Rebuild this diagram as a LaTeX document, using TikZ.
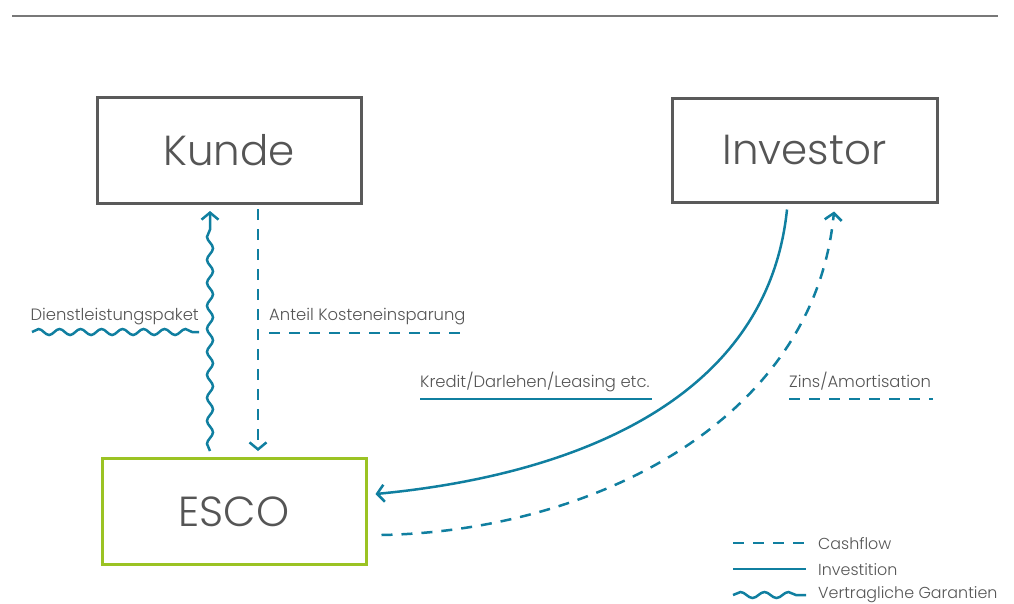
\documentclass[tikz,border=0pt]{standalone}
\usepackage{fontspec}
\setmainfont{Poppins Light}
\usetikzlibrary{arrows.meta,decorations.pathmorphing,calc}
\definecolor{flowc}{RGB}{16,127,160}
\definecolor{escoc}{RGB}{155,195,35}
\definecolor{boxc}{RGB}{90,90,90}
\definecolor{txtc}{RGB}{85,85,85}
\definecolor{rulec}{RGB}{120,120,120}
\tikzset{
  bigbox/.style={draw=boxc, line width=3pt, minimum width=264pt, minimum height=106pt, inner sep=0pt, text=txtc, font=\fontsize{42}{42}\selectfont},
  escobox/.style={bigbox, draw=escoc},
  lbl/.style={text=txtc, font=\fontsize{16.4}{17}\selectfont, inner sep=0pt},
  leg/.style={lbl, font=\fontsize{15.9}{17}\selectfont},
  flow/.style={draw=flowc, line width=2.5pt},
  cash/.style={flow, dash pattern=on 11pt off 9pt},
  wave/.style={flow, decorate, decoration={snake, amplitude=3pt, segment length=23pt}},
  tip/.style={-{Straight Barb[length=7pt,width=17pt]}},
}
\begin{document}
\begin{tikzpicture}[x=1pt,y=-1pt]
\useasboundingbox (0,0) rectangle (1014,603);
\draw[rulec, line width=1.3pt] (12,16) -- (998,16);

\node[bigbox] (kunde) at (229,150.5) {Kunde};
\node[bigbox, minimum width=265pt, minimum height=104pt] (investor) at (804.5,150) {Investor};
\node[escobox] (esco) at (234,511.5) {ESCO};

% vertical connectors
\coordinate (wS) at ([xshift=-24pt,yshift=6pt]esco.north);
\coordinate (wE) at ([xshift=-19pt,yshift=-6pt]kunde.south);
\draw[wave, tip, decoration={post length=8pt}] (wS) -- (wE);
\coordinate (dS) at ([xshift=29pt,yshift=-4pt]kunde.south);
\coordinate (dE) at ([xshift=24pt,yshift=6pt]esco.north);
\draw[cash, tip] (dS) -- (dE);

% curved connectors
\coordinate (sS) at ([xshift=-17.5pt,yshift=-6pt]investor.south);
\coordinate (sE) at ([xshift=8pt,yshift=17.5pt]esco.east);
\draw[flow, tip] (sS) .. controls ++(-20,195) and ++(190,-18) .. (sE);
\coordinate (cS) at ([xshift=14pt,yshift=-23.5pt]esco.east);
\coordinate (cE) at ([xshift=29.5pt,yshift=-8pt]investor.south);
\draw[cash, tip] (cS) .. controls ++(210,-4) and ++(-20,210) .. (cE);

% labels
\node[lbl, anchor=base east] (l1) at (199,320) {Dienstleistungspaket};
\draw[wave, decoration={segment length=21pt}] (32,332) -- (199,332);
\node[lbl, anchor=base west] (l2) at (269,320) {Anteil Kosteneinsparung};
\draw[cash] (269,333) -- (468,333);
\node[lbl, anchor=base west] (l3) at (420,387) {Kredit/Darlehen/Leasing etc.};
\draw[flow] (420,399) -- (652,399);
\node[lbl, anchor=base west] (l4) at (789,387) {Zins/Amortisation};
\draw[cash] (789,399) -- (933,399);

% legend
\draw[cash] (733,543) -- (806,543);
\node[leg, anchor=base west] (g1) at (818,549) {Cashflow};
\draw[flow] (733,569) -- (806,569);
\node[leg, anchor=base west] (g2) at (818,575) {Investition};
\draw[wave, decoration={segment length=24pt}] (733,595) -- (806,595);
\node[leg, anchor=base west] (g3) at (818,598) {Vertragliche Garantien};
\end{tikzpicture}
\end{document}
